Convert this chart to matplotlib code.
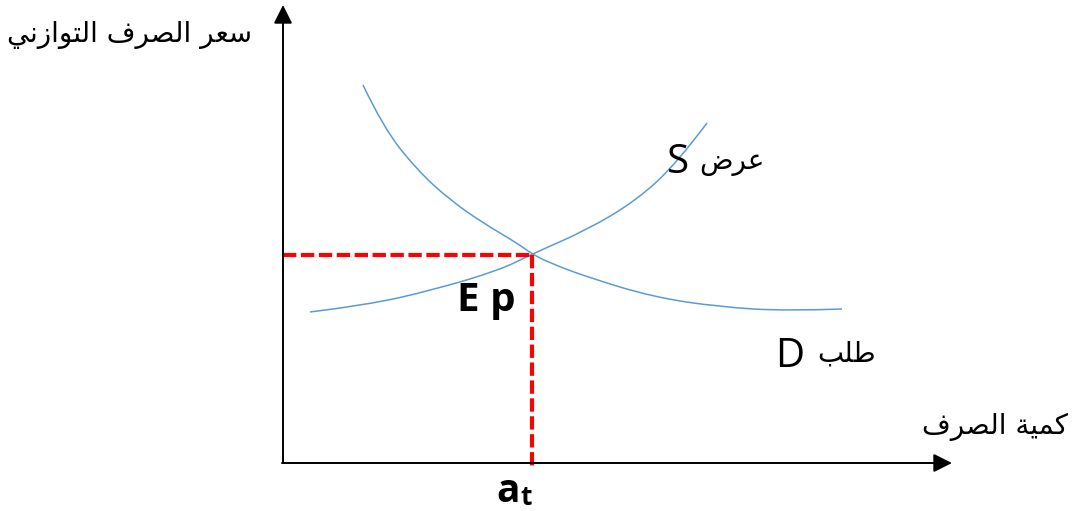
import matplotlib.pyplot as plt
from matplotlib.path import Path
from matplotlib.patches import PathPatch

# Demand curve D (quantity, exchange rate)
demand_q = [1.60, 2.00, 2.68, 3.34, 4.00, 4.68, 4.98, 5.34, 6.08, 7.40, 8.74, 10.08, 11.18]
demand_p = [7.56, 6.72, 5.86, 5.26, 4.80, 4.40, 4.18, 4.00, 3.72, 3.32, 3.12, 3.04, 3.08]

# Supply curve S
supply_q = [0.54, 1.68, 3.00, 4.34, 4.98, 6.08, 7.08, 7.88, 8.48]
supply_p = [3.02, 3.16, 3.46, 3.86, 4.18, 4.66, 5.26, 6.00, 6.80]

# Equilibrium point
eq_q = 4.98
eq_p = 4.16

# Labels
y_label = "سعر الصرف التوازني"
x_label = "كمية الصرف"
supply_label = "عرض"
demand_label = "طلب"

# Arabic letter forms: isolated, final, initial, medial
FORMS = {
    'ا': (0xFE8D, 0xFE8E, None, None),
    'ب': (0xFE8F, 0xFE90, 0xFE91, 0xFE92),
    'ة': (0xFE93, 0xFE94, None, None),
    'ت': (0xFE95, 0xFE96, 0xFE97, 0xFE98),
    'ر': (0xFEAD, 0xFEAE, None, None),
    'ز': (0xFEAF, 0xFEB0, None, None),
    'س': (0xFEB1, 0xFEB2, 0xFEB3, 0xFEB4),
    'ص': (0xFEB9, 0xFEBA, 0xFEBB, 0xFEBC),
    'ض': (0xFEBD, 0xFEBE, 0xFEBF, 0xFEC0),
    'ط': (0xFEC1, 0xFEC2, 0xFEC3, 0xFEC4),
    'ع': (0xFEC9, 0xFECA, 0xFECB, 0xFECC),
    'ف': (0xFED1, 0xFED2, 0xFED3, 0xFED4),
    'ك': (0xFED9, 0xFEDA, 0xFEDB, 0xFEDC),
    'ل': (0xFEDD, 0xFEDE, 0xFEDF, 0xFEE0),
    'م': (0xFEE1, 0xFEE2, 0xFEE3, 0xFEE4),
    'ن': (0xFEE5, 0xFEE6, 0xFEE7, 0xFEE8),
    'و': (0xFEED, 0xFEEE, None, None),
    'ي': (0xFEF1, 0xFEF2, 0xFEF3, 0xFEF4),
}


def shape(text):
    # join the letters and reverse for right-to-left display
    out = []
    for i, c in enumerate(text):
        if c not in FORMS:
            out.append(c)
            continue
        prev = text[i - 1] if i > 0 else None
        nxt = text[i + 1] if i + 1 < len(text) else None
        join_prev = prev in FORMS and FORMS[prev][2] is not None
        join_next = nxt in FORMS and FORMS[c][2] is not None
        f = FORMS[c]
        if join_prev and join_next:
            code = f[3]
        elif join_prev:
            code = f[1]
        elif join_next:
            code = f[2]
        else:
            code = f[0]
        out.append(chr(code))
    return ''.join(out)[::-1]


def smooth_path(xs, ys):
    # quadratic bezier chain: read points act as control points
    pts = list(zip(xs, ys))
    verts = [pts[0]]
    codes = [Path.MOVETO]
    for i in range(1, len(pts) - 1):
        mid = ((pts[i][0] + pts[i + 1][0]) / 2, (pts[i][1] + pts[i + 1][1]) / 2)
        if i == len(pts) - 2:
            mid = pts[-1]
        verts += [pts[i], mid]
        codes += [Path.CURVE3, Path.CURVE3]
    return Path(verts, codes)


fig = plt.figure(figsize=(10.75, 5.11), dpi=100)
ax = fig.add_axes([0, 0, 1, 1])
ax.set_xlim(-5.66, 15.84)
ax.set_ylim(-0.96, 9.26)
ax.axis('off')

# axes with arrows
arrow = dict(arrowstyle='-|>', color='black', lw=1.4, mutation_scale=28, shrinkA=0, shrinkB=0)
ax.annotate('', xy=(13.38, 0), xytext=(-0.02, 0), arrowprops=arrow)
ax.annotate('', xy=(0, 9.16), xytext=(0, 0), arrowprops=arrow)

# curves
blue = '#5B9BD5'
ax.add_patch(PathPatch(smooth_path(demand_q, demand_p), fill=False, edgecolor=blue, lw=1.1))
ax.add_patch(PathPatch(smooth_path(supply_q, supply_p), fill=False, edgecolor=blue, lw=1.1))

# equilibrium dashed lines
red = '#FF0000'
ax.plot([0, eq_q], [eq_p, eq_p], color=red, lw=3.0, dashes=(3.2, 1.1))
ax.plot([eq_q, eq_q], [eq_p, -0.14], color=red, lw=3.0, dashes=(3.2, 1.1))

# texts
ar = dict(family='DejaVu Sans', fontsize=20, color='black')
ax.text(-0.62, 8.56, shape(y_label), ha='right', va='center', **ar)
ax.text(15.7, 0.72, shape(x_label), ha='right', va='center', **ar)
ax.text(9.64, 6.02, shape(supply_label), ha='right', va='center', **ar)
ax.text(11.86, 2.18, shape(demand_label), ha='right', va='center', **ar)

lat = dict(family='Open Sans', fontsize=29, color='black')
ax.text(7.9, 6.0, 'S', ha='center', va='center', **lat)
ax.text(10.14, 2.12, 'D', ha='center', va='center', **lat)
ax.text(4.06, 3.26, 'E p', ha='center', va='center', fontweight='bold', **lat)
ax.text(4.5, -0.95, 'a', ha='center', va='bottom', fontweight='bold',
        family='Open Sans', fontsize=28, color='black')
ax.text(4.86, -0.95, 't', ha='center', va='bottom', fontweight='bold',
        family='Open Sans', fontsize=19, color='black')

fig.savefig('out.png', dpi=100)
